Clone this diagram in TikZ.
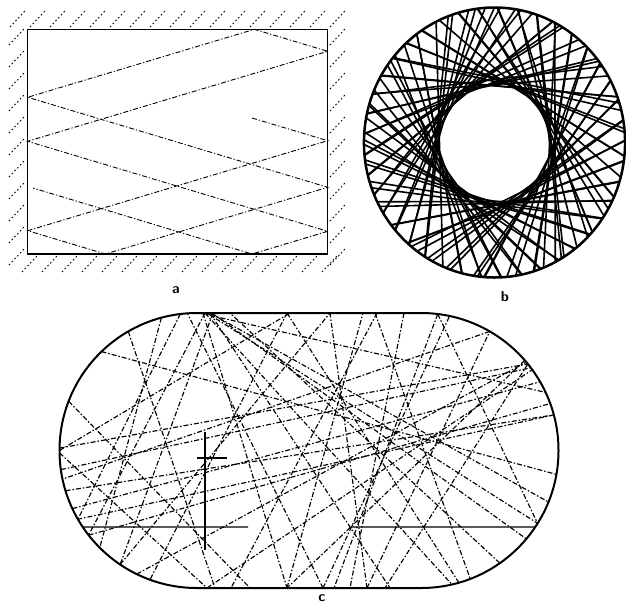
\documentclass[tikz,border=0pt]{standalone}
\usetikzlibrary{calc}
\begin{document}
\begin{tikzpicture}[x=1pt,y=-1pt,
  traj/.style={line width=0.9pt, dash pattern=on 5pt off 2pt on 1.2pt off 2pt},
  trajc/.style={line width=1.15pt, dash pattern=on 5pt off 2pt on 1.5pt off 2pt},
  wall/.style={line width=1.4pt},
  hatch/.style={line width=0.9pt, dash pattern=on 1.6pt off 2.4pt},
  chord/.style={line width=1.6pt},
  solidc/.style={line width=1.1pt},
  lab/.style={font=\sffamily\bfseries\Large}]
\useasboundingbox (0,0) rectangle (626,606);
\fill[white] (0,0) rectangle (626,606);

% ---------------- panel a : rectangle ----------------
\foreach \x in {10,30,...,330} \draw[hatch] (\x,27) -- ++(15,-16);
\foreach \x in {22,42,...,330} \draw[hatch] (\x,272) -- ++(15,-16);
\foreach \y in {45,67,...,265} \draw[hatch] (9,\y) -- ++(15,-16);
\foreach \y in {45,67,...,265} \draw[hatch] (330,\y) -- ++(15,-16);
\draw[wall] (27.7,29.3) rectangle (327.7,254);
\draw[traj] (252,118) -- (327.7,140.7) -- (27.7,230.7) -- (105.4,254)
  -- (327.7,187.3) -- (27.7,97.3) -- (254.4,29.3) -- (327.7,51.3)
  -- (27.7,141.3) -- (327.7,231.3) -- (252,254) -- (33,188);
\node[lab] (la) at (176,290) {a};

% ---------------- panel b : circle ----------------
\begin{scope}[shift={(494.5,142.5)}, xscale=0.967]
  \pgfmathsetseed{7}
  \foreach \i in {0,...,79} {
    \pgfmathsetmacro\aa{17+\i*131.7}
    \pgfmathsetmacro\bb{\aa+130.6-7*(rnd)^2}
    \draw[chord] (\aa:135) -- (\bb:135);
  }
  \draw[line width=2.5pt] (0,0) circle (135);
\end{scope}
\node[lab] (lb) at (505,297) {b};

% ---------------- panel c : stadium ----------------
\coordinate (L) at (197,450.5);
\coordinate (R) at (421,450.5);
\newcommand{\Lp}[1]{([shift={(#1:137.5)}]L)}
\newcommand{\Rp}[1]{([shift={(#1:137.5)}]R)}

\draw[trajc] (207,313) -- \Rp{32};
\draw[trajc] (212,313) -- \Rp{40};
\draw[trajc] (205,313) -- \Rp{77};
\draw[trajc] (210,313) -- (390,588);
\draw[trajc] (213,313) -- \Lp{124};
\draw[trajc] (205,313) -- \Lp{142};
\draw[trajc] (323,588) -- \Lp{266};
\draw[trajc] (203,313) -- (287,588);
\draw[trajc] \Lp{263} -- \Lp{150};
\draw[trajc] (210,313) -- \Rp{22};
\draw[trajc] \Lp{180} -- (290,313);
\draw[trajc] \Lp{181} -- \Rp{-39};
\draw[trajc] \Lp{172} -- \Rp{-37};
\draw[trajc] \Lp{163} -- \Rp{-15};
\draw[trajc] \Lp{179} -- (207,588);
\draw[trajc] \Rp{-39} -- (385,588);
\draw[trajc] \Rp{-41} -- (287,588);
\draw[trajc] (207,588) -- \Rp{-36};
\draw[trajc] (287,313) -- \Lp{110};
\draw[trajc] (287,313) -- \Rp{74};
\draw[trajc] (377,313) -- (231,588);
\draw[trajc] (375,313) -- \Rp{69};
\draw[trajc] \Rp{-83} -- \Rp{32};
\draw[trajc] \Rp{-83} -- (334,588);
\draw[trajc] (287,588) -- (363,313);
\draw[trajc] (323,588) -- \Rp{-78};
\draw[trajc] \Rp{-15} -- \Lp{150};
\draw[trajc] \Rp{55} -- (230,313);
\draw[trajc] \Lp{201} -- (250,588);
\draw[trajc] \Lp{226} -- \Rp{10};
\draw[trajc] (367,588) -- (330,313);
\draw[trajc] \Lp{142} -- \Rp{-20};
\draw[trajc] \Lp{124} -- (330,313);
\draw[trajc] \Lp{155} -- \Rp{-30};
\draw[trajc] (367,588) -- \Rp{-60};
\draw[trajc] \Lp{240} -- (215,588);
\draw[trajc] \Lp{255} -- \Lp{135};
\draw[trajc] (200,313) -- \Rp{-25};
\draw[trajc] \Lp{116} -- \Rp{-40};
\draw[trajc] (404,313) -- (350,588);
\draw[trajc] \Rp{-60} -- \Lp{168};

\draw[solidc] \Lp{146.2} -- (248,527);
\draw[solidc] (352,527) -- \Rp{33.8};
\draw[solidc] (205,432) -- (205,550);
\draw[solidc] (197,458) -- (227,458);

\draw[line width=2pt] (197,313) -- (421,313)
  arc[start angle=-90, end angle=90, radius=137.5] -- (197,588)
  arc[start angle=90, end angle=270, radius=137.5] -- cycle;
\node[lab] (lc) at (322,598) {c};
\end{tikzpicture}
\end{document}
